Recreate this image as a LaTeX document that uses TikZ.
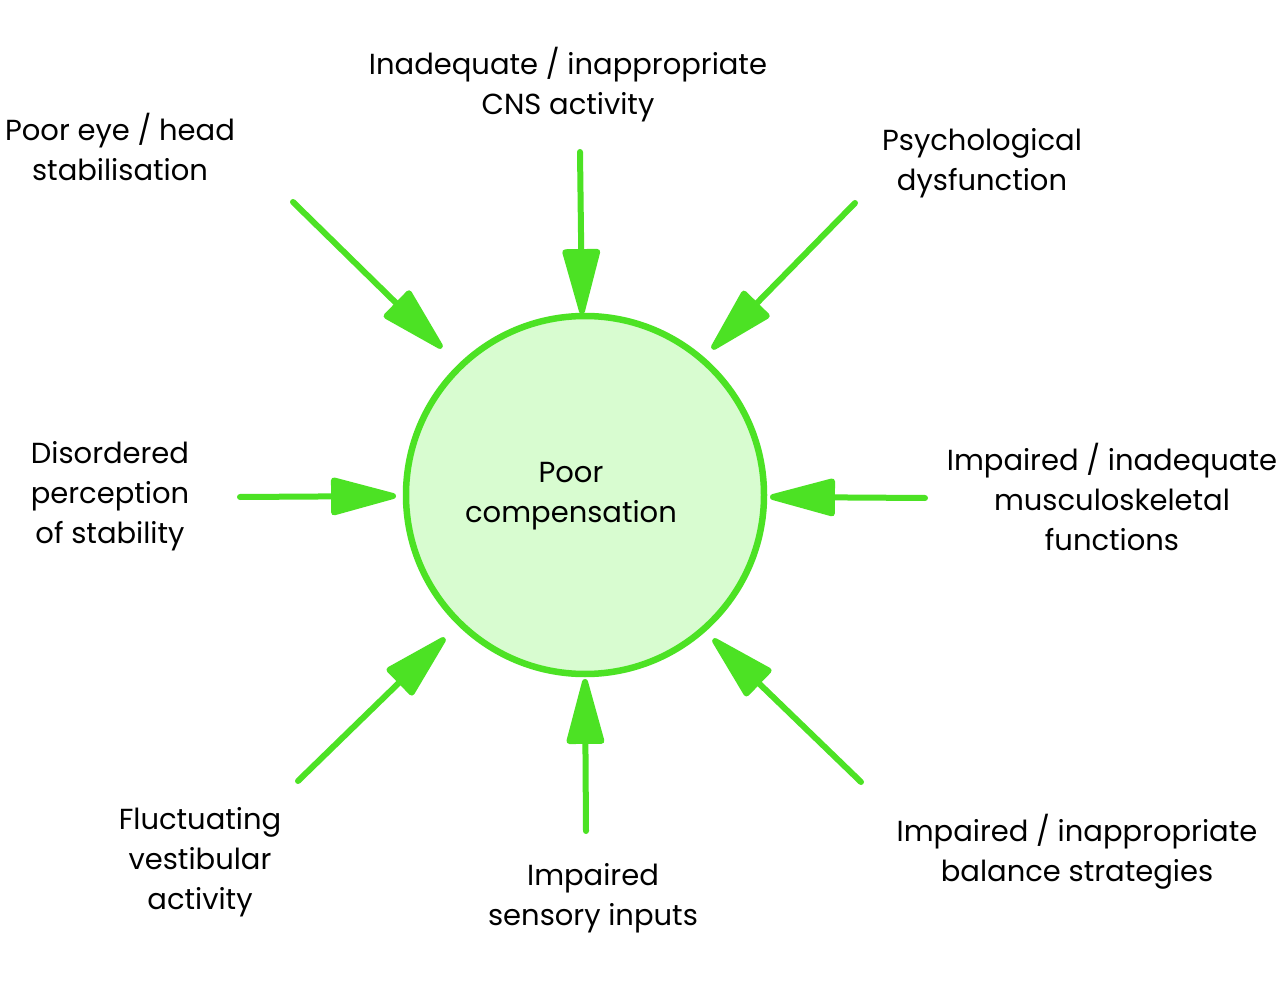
\documentclass[tikz,border=0pt]{standalone}
\usepackage{fontspec}
\setmainfont{Poppins}
\usetikzlibrary{arrows.meta}
\definecolor{lgreen}{RGB}{76,226,36}
\definecolor{pfill}{RGB}{216,252,208}
\tikzset{
  arr/.style={draw=lgreen, line width=6pt, line cap=round,
    -{Triangle[length=74pt,width=38pt,round=false]}},
  lbl/.style={align=center, inner sep=0pt, text=black,
    font=\fontsize{29}{40}\selectfont},
}
\begin{document}
\begin{tikzpicture}[x=1pt,y=-1pt]
\useasboundingbox (0,0) rectangle (1280,981);
\fill[white] (0,0) rectangle (1280,981);
\node[circle, minimum size=358pt, inner sep=0pt, draw=lgreen, line width=6.5pt, fill=pfill] (c) at (585,495) {};
\node[lbl] (ctext) at (571,496) {Poor\\compensation};

\node[lbl] (l1) at (120,147) {Poor eye / head\\stabilisation};
\node[lbl] (l2) at (568,85) {Inadequate / inappropriate\\CNS activity};
\node[lbl] (l3) at (982,163) {Psychological\\dysfunction};
\node[lbl] (l4) at (110,496) {Disordered\\perception\\of stability};
\node[lbl] (l5) at (1112,497) {Impaired / inadequate\\musculoskeletal\\functions};
\node[lbl] (l6) at (200,862) {Fluctuating\\vestibular\\activity};
\node[lbl] (l7) at (593,898) {Impaired\\sensory inputs};
\node[lbl] (l8) at (1077,852) {Impaired / inappropriate\\balance strategies};

\coordinate (s1) at (293,202); \coordinate (t1) at (442,348);
\coordinate (s2) at (580,152); \coordinate (t2) at (582,314);
\coordinate (s3) at (855,203); \coordinate (t3) at (712,349);
\coordinate (s4) at (240,497); \coordinate (t4) at (396,496);
\coordinate (s5) at (925,498); \coordinate (t5) at (770,497);
\coordinate (s6) at (298,781); \coordinate (t6) at (445,638);
\coordinate (s7) at (586,831); \coordinate (t7) at (585,679);
\coordinate (s8) at (861,782); \coordinate (t8) at (713,639);

\foreach \i in {1,...,8} {\draw[arr] (s\i) -- (t\i);}
\end{tikzpicture}
\end{document}
